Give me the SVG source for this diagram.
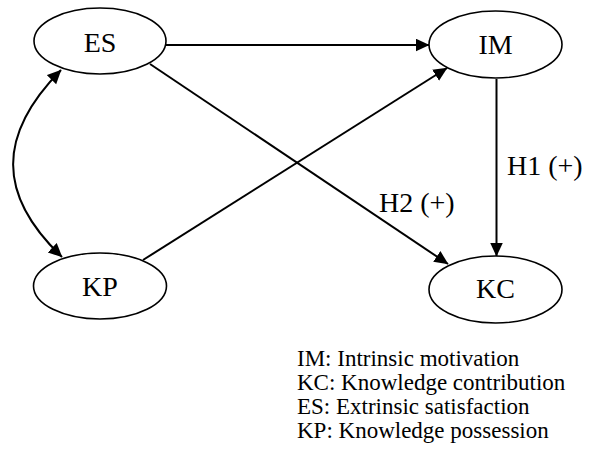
<svg xmlns="http://www.w3.org/2000/svg" width="591" height="452" viewBox="0 0 591 452">
<defs>
<style>
.node ellipse{fill:#fff;stroke:#000;stroke-width:1.6}
.node text{font-family:'Liberation Serif','Times New Roman',Tinos,Times,'DejaVu Serif',serif;font-size:28px;text-anchor:middle;fill:#000}
.edge{fill:none;stroke:#000;stroke-width:2}
.lbl{font-family:'Liberation Serif','Times New Roman',Tinos,Times,'DejaVu Serif',serif;font-size:28px;fill:#000}
.legend{font-family:'Liberation Serif','Times New Roman',Tinos,Times,'DejaVu Serif',serif;font-size:23px;fill:#000}
</style>
<marker id="ah" markerUnits="userSpaceOnUse" markerWidth="16" markerHeight="14" refX="13.5" refY="6.5" orient="auto-start-reverse">
<path d="M0,0 L14,6.5 L0,13 z" fill="#000"/>
</marker>
</defs>
<g id="connectors">
<path class="edge" d="M166,45 L429,45" marker-end="url(#ah)"/>
<path class="edge" d="M150,64 L448,264" marker-end="url(#ah)"/>
<path class="edge" d="M143,260 L447,68" marker-end="url(#ah)"/>
<path class="edge" d="M496.5,79 L496.5,256" marker-end="url(#ah)"/>
<path class="edge" d="M61,70 C-3,135 -3,195 62,257" marker-start="url(#ah)" marker-end="url(#ah)"/>
<text class="lbl" x="507" y="174.5">H1 (+)</text>
<text class="lbl" x="379" y="212">H2 (+)</text>
</g>
<g id="ES" class="node"><ellipse cx="100" cy="41" rx="66" ry="33"/><text x="100" y="52">ES</text></g>
<g id="IM" class="node"><ellipse cx="495.5" cy="44.5" rx="66.5" ry="33.5"/><text x="495.5" y="53.5">IM</text></g>
<g id="KP" class="node"><ellipse cx="100" cy="286" rx="66.5" ry="33"/><text x="100" y="296">KP</text></g>
<g id="KC" class="node"><ellipse cx="495.5" cy="289.5" rx="66.5" ry="33.5"/><text x="495.5" y="297.5">KC</text></g>
<g id="legend">
<text class="legend" x="297" y="366">IM: Intrinsic motivation</text>
<text class="legend" x="297" y="390">KC: Knowledge contribution</text>
<text class="legend" x="297" y="414">ES: Extrinsic satisfaction</text>
<text class="legend" x="297" y="437.5">KP: Knowledge possession</text>
</g>
</svg>
